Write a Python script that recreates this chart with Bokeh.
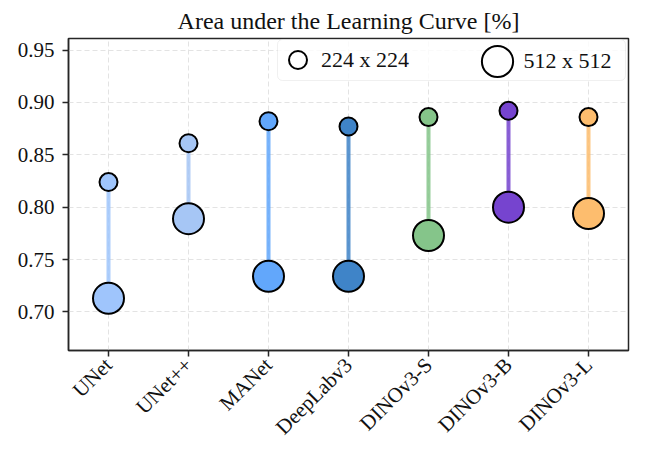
from math import pi
import numpy as np
from bokeh.plotting import figure
from bokeh.models import (FactorRange, Range1d, FixedTicker, Legend, LegendItem,
                          BoxAnnotation, ColumnDataSource, NumeralTickFormatter, Label)
from bokeh.embed import file_html
from bokeh.resources import INLINE

# ---- data ----
categories = ["UNet", "UNet++", "MANet", "DeepLabv3", "DINOv3-S", "DINOv3-B", "DINOv3-L"]
auc_224 = [0.824, 0.861, 0.882, 0.877, 0.886, 0.892, 0.886]
auc_512 = [0.713, 0.789, 0.734, 0.734, 0.773, 0.800, 0.794]
colors = ["#9fc5fc", "#a6c6f5", "#62a7fb", "#3f84c8", "#85c58a", "#7644cf", "#fdbd6e"]
y_ticks = [0.70, 0.75, 0.80, 0.85, 0.90, 0.95]
legend_labels = ["224 x 224", "512 x 512"]
title_text = "Area under the Learning Curve [%]"

FONT = "Liberation Serif"

src = ColumnDataSource(dict(cat=categories, a224=auc_224, a512=auc_512, color=colors))

p = figure(x_range=FactorRange(*categories, range_padding=0),
           y_range=Range1d(0.6632, 0.961),
           width=630, height=450, output_backend="svg", toolbar_location=None,
           title=title_text,
           min_border_left=68, min_border_right=2, min_border_top=38, min_border_bottom=90)

p.title.text_font = FONT
p.title.text_font_size = "24px"
p.title.text_font_style = "normal"
p.title.align = "center"
p.title.text_color = "#111111"
p.title.standoff = 10

# axes
p.axis.major_label_text_font = FONT
p.axis.major_label_text_font_size = "21px"
p.axis.major_label_text_color = "#111111"
p.axis.major_tick_out = 6
p.axis.major_tick_in = 0
p.axis.minor_tick_line_color = None
p.axis.axis_line_color = "#262626"
p.axis.axis_line_width = 1.5
p.axis.major_tick_line_color = "#262626"
p.axis.major_tick_line_width = 1.5
p.xaxis.major_label_orientation = pi / 4
p.xaxis.major_label_standoff = 5
p.yaxis.major_label_standoff = 8
p.yaxis.ticker = FixedTicker(ticks=y_ticks)
p.yaxis.formatter = NumeralTickFormatter(format="0.00")

p.outline_line_color = "#262626"
p.outline_line_width = 1.5
p.outline_line_alpha = 1.0

p.grid.grid_line_color = "#e3e3e3"
p.grid.grid_line_dash = "5 3"
p.grid.grid_line_width = 1

# marks
p.segment(x0="cat", y0="a224", x1="cat", y1="a512", line_color="color",
          line_width=4, line_alpha=0.85, source=src)
p.scatter("cat", "a224", size=18, fill_color="color", line_color="black",
          line_width=2, source=src)
p.scatter("cat", "a512", size=31, fill_color="color", line_color="black",
          line_width=2, source=src)

# legend frame (x in category units, y in data units)
box = BoxAnnotation(left=2.6125, right=6.9625, top=0.96005, bottom=0.9209,
                    fill_color="white", fill_alpha=0.8,
                    line_color="#cccccc", line_width=1, border_radius=5)
p.add_layout(box)

# legend keys (hollow circles); NaN keeps them out of the plot area
nan_src = ColumnDataSource(dict(x=[categories[0]], y=np.array([np.nan])))
r_small = p.scatter("x", "y", size=18, fill_color="white", line_color="black",
                    line_width=2, source=nan_src)
r_large = p.scatter("x", "y", size=31, fill_color="white", line_color="black",
                    line_width=2, source=nan_src)

def make_legend(label, rend, glyph, loc, standoff):
    return Legend(items=[LegendItem(label=label, renderers=[rend])],
                  location=loc, glyph_width=glyph, glyph_height=glyph,
                  padding=0, margin=0, spacing=0,
                  border_line_alpha=0, background_fill_alpha=0,
                  label_text_font=FONT, label_text_font_size="22px",
                  label_text_color="#111111", label_standoff=standoff)

p.add_layout(make_legend(legend_labels[0], r_small, 45, (207, 268), 1))
p.add_layout(make_legend(" ", r_large, 78, (390, 250), 0))
p.add_layout(Label(x=5.6875, y=0.94, text=legend_labels[1], text_font=FONT,
                   text_font_size="22px", text_color="#111111",
                   text_align="left", text_baseline="middle"))

open("out.html", "w").write(file_html(p, INLINE))
